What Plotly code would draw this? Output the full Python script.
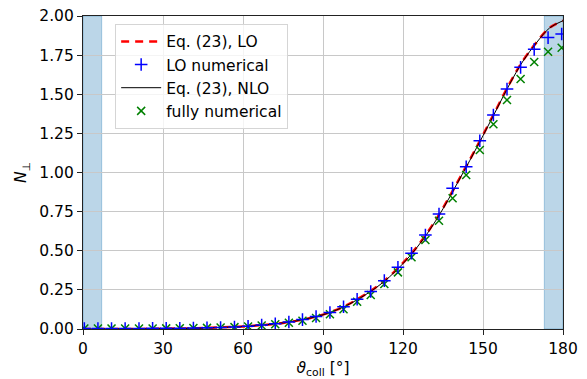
import plotly.graph_objects as go

# ---- data ----
# curves (Eq. (23)), sampled every 5 degrees
theta_curve = [0, 5, 10, 15, 20, 25, 30, 35, 40, 45, 50, 55, 60, 65, 70, 75, 80, 85, 90,
               95, 100, 105, 110, 115, 120, 125, 130, 135, 140, 145, 150, 155, 160, 165,
               170, 175, 180]
lo_curve = [0.0, 0.0, 0.0, 0.0, 0.0, 0.001, 0.002, 0.003, 0.004, 0.006, 0.009, 0.012, 0.016,
            0.022, 0.029, 0.039, 0.052, 0.069, 0.092, 0.122, 0.162, 0.212, 0.268, 0.338,
            0.422, 0.520, 0.637, 0.773, 0.925, 1.080, 1.240, 1.405, 1.570, 1.715, 1.830,
            1.925, 1.970]
nlo_curve = [0.0, 0.0, 0.0, 0.0, 0.0, 0.001, 0.002, 0.003, 0.004, 0.006, 0.009, 0.012, 0.016,
             0.022, 0.029, 0.039, 0.052, 0.069, 0.091, 0.121, 0.160, 0.209, 0.265, 0.334,
             0.418, 0.516, 0.632, 0.768, 0.920, 1.075, 1.235, 1.400, 1.565, 1.712, 1.828,
             1.924, 1.970]

# numerical points
theta_pts = [0.5, 5.6, 10.7, 15.8, 21.0, 26.1, 31.2, 36.3, 41.4, 46.5, 51.6, 56.8, 61.9,
             67.0, 72.1, 77.2, 82.3, 87.4, 92.6, 97.7, 102.8, 107.9, 113.0, 118.1, 123.2,
             128.4, 133.5, 138.6, 143.7, 148.8, 153.9, 159.0, 164.1, 169.2, 174.4, 179.5]
lo_numerical = [0.003, 0.003, 0.003, 0.003, 0.003, 0.004, 0.004, 0.005, 0.006, 0.008, 0.010,
                0.013, 0.018, 0.025, 0.033, 0.045, 0.060, 0.080, 0.105, 0.142, 0.190, 0.240,
                0.309, 0.394, 0.484, 0.601, 0.735, 0.900, 1.037, 1.203, 1.367, 1.533, 1.672,
                1.787, 1.862, 1.885]
fully_numerical = [0.003, 0.003, 0.003, 0.003, 0.003, 0.003, 0.004, 0.005, 0.006, 0.007, 0.009,
                   0.012, 0.016, 0.022, 0.030, 0.040, 0.053, 0.070, 0.094, 0.126, 0.174, 0.217,
                   0.288, 0.362, 0.458, 0.569, 0.692, 0.835, 0.984, 1.144, 1.308, 1.463, 1.597,
                   1.706, 1.772, 1.797]

shaded_regions = [(0, 7), (173, 180)]

x_ticks = [0, 30, 60, 90, 120, 150, 180]
y_ticks = [0.0, 0.25, 0.5, 0.75, 1.0, 1.25, 1.5, 1.75, 2.0]

FONT = "DejaVu Sans"
FS = 15.5

fig = go.Figure()

fig.add_trace(go.Scatter(x=theta_curve, y=lo_curve, mode="lines", name="Eq. (23), LO",
                         line=dict(color="#ff0000", width=2.5, dash="8px,6px", shape="spline"),
                         legendrank=1))
fig.add_trace(go.Scatter(x=theta_curve, y=nlo_curve, mode="lines", name="Eq. (23), NLO",
                         line=dict(color="black", width=1, shape="spline"),
                         legendrank=3))
fig.add_trace(go.Scatter(x=theta_pts, y=fully_numerical, mode="markers", name="fully numerical",
                         marker=dict(symbol="x-thin", size=8, color="#008000",
                                     line=dict(color="#008000", width=1.5)),
                         legendrank=4, cliponaxis=True))
fig.add_trace(go.Scatter(x=theta_pts, y=lo_numerical, mode="markers", name="LO numerical",
                         marker=dict(symbol="cross-thin", size=9, color="#0000ff",
                                     line=dict(color="#0000ff", width=1.5)),
                         legendrank=2, cliponaxis=True))

for (a, b) in shaded_regions:
    fig.add_shape(type="rect", xref="x", yref="paper", x0=a, x1=b, y0=0, y1=1,
                  fillcolor="rgba(31,119,180,0.3)", line=dict(color="rgba(31,119,180,0.35)", width=1),
                  layer="below")

axis_common = dict(showline=True, linecolor="#222222", linewidth=1.2, mirror=True,
                   ticks="outside", ticklen=5, tickwidth=1, tickcolor="#222222",
                   showgrid=True, gridcolor="#c8c8c8", gridwidth=1, zeroline=False,
                   automargin=False,
                   tickfont=dict(family=FONT, size=FS, color="black"))

fig.update_xaxes(range=[0, 180], tickvals=x_ticks, ticktext=[str(t) for t in x_ticks],
                 title=dict(text="<i>ϑ</i><sub>coll</sub> [°]", font=dict(family=FONT, size=FS, color="black"),
                            standoff=6),
                 **axis_common)
fig.update_yaxes(range=[0, 2.0], tickvals=y_ticks, ticktext=[f"{t:.2f}" for t in y_ticks],
                 title=dict(text="<i>N</i><sub>⊥</sub>", font=dict(family=FONT, size=FS, color="black"),
                            standoff=8),
                 **axis_common)

fig.update_layout(
    width=587, height=379,
    margin=dict(l=83, r=24, t=16, b=50),
    plot_bgcolor="white", paper_bgcolor="white",
    font=dict(family=FONT, size=FS, color="black"),
    legend=dict(x=0.067, y=0.975, xanchor="left", yanchor="top",
                bgcolor="rgba(255,255,255,0.8)", bordercolor="#d5d5d5", borderwidth=1,
                font=dict(family=FONT, size=FS), itemwidth=40, tracegroupgap=0),
    showlegend=True,
)

fig.write_html("out.html", config={"displayModeBar": False},
               post_script="document.body.style.margin='0';document.body.style.overflow='hidden';")
